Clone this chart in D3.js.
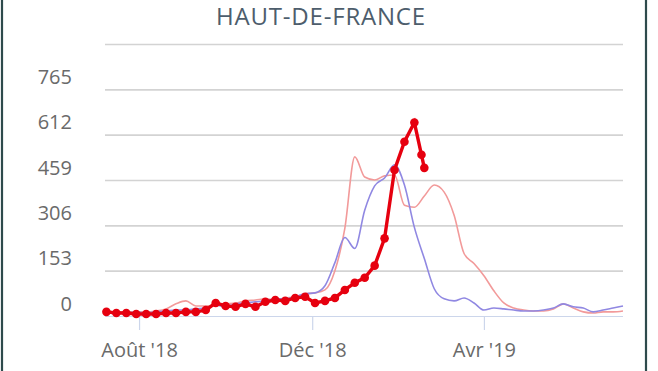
<!DOCTYPE html>
<html>
<head>
<meta charset="utf-8">
<script src="https://cdnjs.cloudflare.com/ajax/libs/d3/7.8.5/d3.min.js"></script>
<style>
  html, body { margin: 0; padding: 0; background: #ffffff; }
  svg { display: block; }
</style>
</head>
<body>
<svg id="chart" width="658" height="371"></svg>
<script>
// ---------- DATA ----------
const title = "HAUT-DE-FRANCE";

const weeks = [
  "2018-07-09","2018-07-16","2018-07-23","2018-07-30","2018-08-06","2018-08-13","2018-08-20","2018-08-27",
  "2018-09-03","2018-09-10","2018-09-17","2018-09-24","2018-10-01","2018-10-08","2018-10-15","2018-10-22",
  "2018-10-29","2018-11-05","2018-11-12","2018-11-19","2018-11-26","2018-12-03","2018-12-10","2018-12-17",
  "2018-12-24","2018-12-31","2019-01-07","2019-01-14","2019-01-21","2019-01-28","2019-02-04","2019-02-11",
  "2019-02-18","2019-02-25","2019-03-04","2019-03-11","2019-03-18","2019-03-25","2019-04-01","2019-04-08",
  "2019-04-15","2019-04-22","2019-04-29","2019-05-06","2019-05-13","2019-05-20","2019-05-27","2019-06-03",
  "2019-06-10","2019-06-17","2019-06-24","2019-07-01","2019-07-08"
];

// previous season A (light red, thin)
const seasonPink = [
  17,14,14,14,14,17,24,41,51,34,34,37,41,44,51,54,
  58,54,61,65,75,78,88,153,296,537,469,459,473,476,374,367,
  405,442,418,340,211,177,136,85,44,27,20,17,17,24,41,27,
  14,10,14,14,17
];

// previous season B (purple, thin)
const seasonPurple = [
  14,10,10,14,10,14,17,20,20,24,27,37,31,41,44,48,
  51,58,58,65,75,78,102,180,265,228,357,439,466,510,442,299,
  194,92,58,51,61,44,20,27,24,20,17,17,20,27,41,31,
  27,14,20,27,34
];

// current season (red, thick with markers)
const currentDates = [
  "2018-07-09","2018-07-16","2018-07-23","2018-07-30","2018-08-06","2018-08-13","2018-08-20","2018-08-27",
  "2018-09-03","2018-09-10","2018-09-17","2018-09-24","2018-10-01","2018-10-08","2018-10-15","2018-10-22",
  "2018-10-29","2018-11-05","2018-11-12","2018-11-19","2018-11-26","2018-12-03","2018-12-10","2018-12-17",
  "2018-12-24","2018-12-31","2019-01-07","2019-01-14","2019-01-21","2019-01-28","2019-02-04","2019-02-11",
  "2019-02-16","2019-02-18"
];
const currentValues = [
  14,10,10,7,7,7,10,10,14,14,20,44,34,31,41,31,
  48,54,51,61,65,44,51,61,88,112,129,170,262,493,588,653,
  544,500
];

const yTicks = [0,153,306,459,612,765,918];
const yTickLabels = ["0","153","306","459","612","765",""];
const xTicks = ["2018-08-01","2018-12-01","2019-04-01"];
const xTickLabels = ["Août '18","Déc '18","Avr '19"];

// ---------- DRAW ----------
const parse = d3.timeParse("%Y-%m-%d");
const svg = d3.select("#chart");
const W = 658, H = 371;

const x = d3.scaleTime()
  .domain([parse("2018-07-08"), parse("2019-07-08")])
  .range([105, 623]);
const y = d3.scaleLinear().domain([0, 918]).range([316, 44]);

// border lines
svg.append("line").attr("x1",2).attr("x2",2).attr("y1",0).attr("y2",H)
  .attr("stroke","#2e4a4c").attr("stroke-width",2.2);
svg.append("line").attr("x1",646).attr("x2",646).attr("y1",0).attr("y2",H)
  .attr("stroke","#2e4a4c").attr("stroke-width",2.2);

// title
svg.append("text")
  .attr("x", 321).attr("y", 25)
  .attr("text-anchor","middle")
  .attr("font-family","Open Sans, sans-serif")
  .attr("font-size", 24)
  .attr("fill","#4d5d6c")
  .attr("letter-spacing", 0.8)
  .text(title);

// y grid + labels
const yAxis = d3.axisLeft(y)
  .tickValues(yTicks)
  .tickSize(-(623-105))
  .tickFormat((d,i) => yTickLabels[i]);
const gy = svg.append("g").attr("transform","translate(105,0)").call(yAxis);
gy.select(".domain").remove();
gy.selectAll(".tick line")
  .attr("stroke", d => d === 0 ? "none" : "#d3d3d3")
  .attr("stroke-width", 1.6);
gy.selectAll(".tick text")
  .attr("x", -33)
  .attr("dy", "-0.3em")
  .attr("font-family","Open Sans, sans-serif")
  .attr("font-size", 20)
  .attr("fill","#6a6a6a");

// x axis
const xAxis = d3.axisBottom(x)
  .tickValues(xTicks.map(parse))
  .tickSize(14)
  .tickFormat((d,i) => xTickLabels[i]);
const gx = svg.append("g").attr("transform","translate(0,316)").call(xAxis);
gx.select(".domain").attr("stroke","#ccd6eb").attr("stroke-width",1.2)
  .attr("d", "M105,0.5H623");
gx.selectAll(".tick line").attr("stroke","#ccd6eb").attr("stroke-width",1.2);
gx.selectAll(".tick text")
  .attr("y", 27)
  .attr("dy", "0.71em")
  .attr("font-family","Open Sans, sans-serif")
  .attr("font-size", 20)
  .attr("fill","#6a6a6a");

// lines
const line = d3.line().x(d => x(d[0])).y(d => y(d[1])).curve(d3.curveMonotoneX);

const pinkData = weeks.map((w,i) => [parse(w), seasonPink[i]]);
const purpleData = weeks.map((w,i) => [parse(w), seasonPurple[i]]);
const redData = currentDates.map((w,i) => [parse(w), currentValues[i]]);

svg.append("path").datum(pinkData)
  .attr("d", line).attr("fill","none")
  .attr("stroke","#f29a9a").attr("stroke-width",1.6);
svg.append("path").datum(purpleData)
  .attr("d", line).attr("fill","none")
  .attr("stroke","#9088e2").attr("stroke-width",1.6);

svg.append("path").datum(redData)
  .attr("d", d3.line().x(d => x(d[0])).y(d => y(d[1])))
  .attr("fill","none")
  .attr("stroke","#e6000f").attr("stroke-width",3.4);
svg.append("g").selectAll("circle").data(redData).join("circle")
  .attr("cx", d => x(d[0])).attr("cy", d => y(d[1]))
  .attr("r", 4.3).attr("fill","#e6000f");
</script>
</body>
</html>
